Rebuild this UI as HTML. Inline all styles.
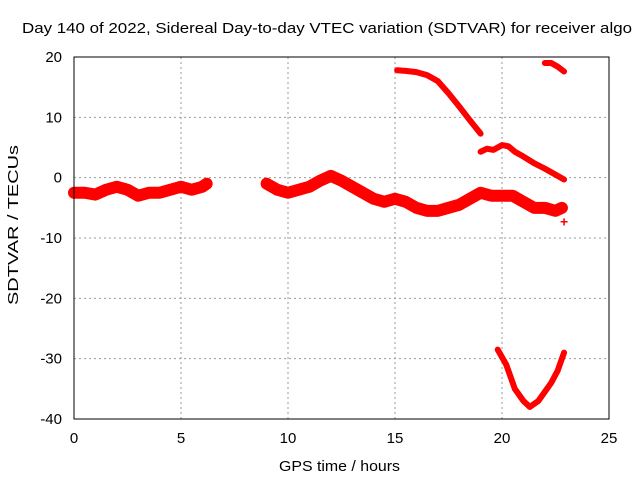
<!DOCTYPE html>
<html><head><meta charset="utf-8"><style>
body{margin:0;background:#fff}
svg{display:block;font-family:"Liberation Sans",sans-serif}
</style></head><body>
<svg id="chart" width="640" height="480" viewBox="0 0 640 480">
<rect width="640" height="480" fill="#fff"/>
<text x="22" y="33" font-size="15" textLength="610" lengthAdjust="spacingAndGlyphs" fill="#000">Day 140 of 2022, Sidereal Day-to-day VTEC variation (SDTVAR) for receiver algo</text>
<text x="279" y="471" font-size="15" textLength="121" lengthAdjust="spacingAndGlyphs">GPS time / hours</text>
<text transform="translate(18,225) rotate(-90)" font-size="15" text-anchor="middle" textLength="160" lengthAdjust="spacingAndGlyphs">SDTVAR / TECUs</text>
<g id="grid"></g>
<g id="series"></g>
<rect x="74" y="57" width="535" height="362" fill="none" stroke="#000" stroke-width="1"/>
</svg>
<script>
const xTicks=[0,5,10,15,20,25];
const yTicks=[20,10,0,-10,-20,-30,-40];
const trackMainA_x=[0,0.5,1,1.5,2,2.5,3,3.5,4,4.5,5,5.5,6,6.2];
const trackMainA_y=[-2.5,-2.5,-2.8,-2,-1.5,-2,-3,-2.5,-2.5,-2,-1.5,-2,-1.5,-1];
const trackMainB_x=[9,9.5,10,10.5,11,11.5,12,12.5,13,13.5,14,14.5,15,15.5,16,16.5,17,17.5,18,18.5,19,19.5,20,20.5,21,21.5,22,22.5,22.8];
const trackMainB_y=[-1,-2,-2.5,-2,-1.5,-0.5,0.3,-0.5,-1.5,-2.5,-3.5,-4,-3.5,-4,-5,-5.5,-5.5,-5,-4.5,-3.5,-2.5,-3,-3,-3,-4,-5,-5,-5.5,-5];
const trackB_x=[15.1,15.5,16,16.5,17,17.5,18,18.5,19];
const trackB_y=[17.8,17.7,17.5,17,16,14,11.8,9.5,7.3];
const trackC_x=[19,19.3,19.6,20,20.3,20.6,21,21.5,22,22.5,22.9];
const trackC_y=[4.3,4.8,4.6,5.4,5.2,4.3,3.5,2.4,1.5,0.5,-0.3];
const trackD_x=[22,22.3,22.6,22.9];
const trackD_y=[19,19,18.4,17.6];
const trackE_x=[19.8,20.2,20.6,21,21.3,21.7,22,22.3,22.6,22.9];
const trackE_y=[-28.5,-31,-35,-37,-38,-37,-35.5,-34,-32,-29];
const outlier_x=[22.9];
const outlier_y=[-7.3];
const NS="http://www.w3.org/2000/svg";
const X=v=>74+v*535/25;
const Y=v=>57+(20-v)*362/60;
const grid=document.getElementById('grid');
xTicks.forEach(t=>{
 if(t>0&&t<25){const l=document.createElementNS(NS,'line');
 
 
 l.setAttribute('x1',X(t));l.setAttribute('x2',X(t));l.setAttribute('y1',57);l.setAttribute('y2',419);
 l.setAttribute('stroke','#999');l.setAttribute('stroke-dasharray','2,3');grid.appendChild(l);}
 const tx=document.createElementNS(NS,'text');
 
 
 tx.setAttribute('x',X(t));tx.setAttribute('y',443);tx.setAttribute('font-size','15');tx.setAttribute('text-anchor','middle');
 tx.textContent=t;grid.appendChild(tx);
});
yTicks.forEach(t=>{
 if(t<20&&t>-40){const l=document.createElementNS(NS,'line');
 
 
 l.setAttribute('x1',74);l.setAttribute('x2',609);l.setAttribute('y1',Y(t));l.setAttribute('y2',Y(t));
 l.setAttribute('stroke','#999');l.setAttribute('stroke-dasharray','2,3');grid.appendChild(l);}
 const tx=document.createElementNS(NS,'text');
 
 
 tx.setAttribute('x',62);tx.setAttribute('y',Y(t)+5);tx.setAttribute('font-size','15');tx.setAttribute('text-anchor','end');
 tx.textContent=t;grid.appendChild(tx);
});
const series=document.getElementById('series');
function track(xs,ys,w,name){
 const p=document.createElementNS(NS,'polyline');
 
 
 p.setAttribute('points',xs.map((x,i)=>X(x)+','+Y(ys[i])).join(' '));
 p.setAttribute('fill','none');p.setAttribute('stroke','#f00');p.setAttribute('stroke-width',w);
 p.setAttribute('stroke-linejoin','round');p.setAttribute('stroke-linecap','round');
 series.appendChild(p);
}
track(trackMainA_x,trackMainA_y,12,'main-track-early');
track(trackMainB_x,trackMainB_y,12,'main-track-late');
track(trackB_x,trackB_y,6,'descending-track');
track(trackC_x,trackC_y,6,'middle-track');
track(trackD_x,trackD_y,6,'top-right-track');
track(trackE_x,trackE_y,6,'bottom-arc-track');
outlier_x.forEach((x,i)=>{
 const t=document.createElementNS(NS,'text');
 
 
 t.setAttribute('x',X(x));t.setAttribute('y',Y(outlier_y[i])+5);t.setAttribute('font-size','14');
 t.setAttribute('font-weight','bold');t.setAttribute('fill','#f00');t.setAttribute('text-anchor','middle');
 t.textContent='+';series.appendChild(t);
});
</script>
</body></html>
